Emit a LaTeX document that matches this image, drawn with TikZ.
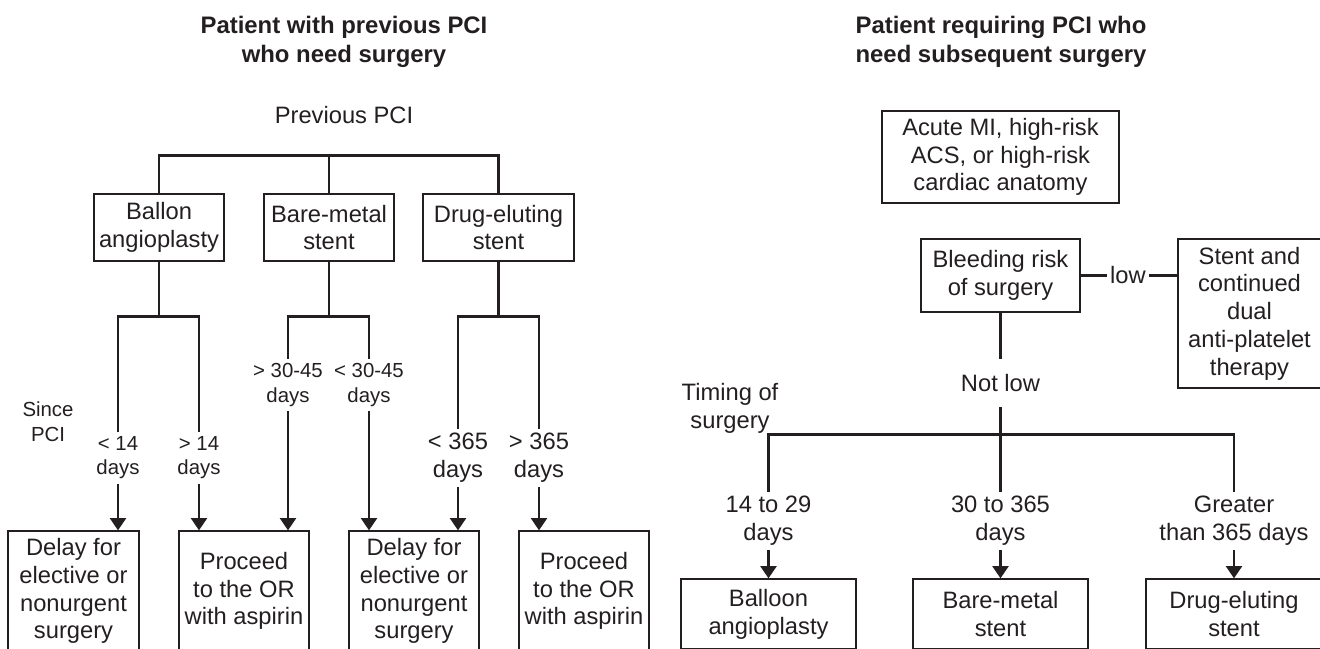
\documentclass[tikz,border=0pt]{standalone}
\usepackage{fontspec}
\setmainfont{Liberation Sans}
\usepackage{tikz}
\usetikzlibrary{positioning,arrows.meta}
\definecolor{ink}{HTML}{231F20}

\begin{document}
\begin{tikzpicture}[x=0.02cm,y=-0.02cm,
    box/.style={rectangle,draw=ink,line width=0.7pt,inner sep=0pt,align=center,text=ink,font=\fontsize{13.5}{15.8}\selectfont},
    lbl/.style={inner sep=2.5pt,align=center,text=ink,font=\fontsize{13.5}{15.8}\selectfont},
    tight/.style={lbl,font=\fontsize{11.6}{13.7}\selectfont},
    ttl/.style={align=center,text=ink,font=\fontsize{13.6}{16.5}\selectfont\bfseries},
    line/.style={draw=ink,line width=1.6pt},
    ptr/.style={line,-{Triangle[width=9pt,length=7pt]}}]

\clip (0,0) rectangle (1320,649);

% Left: previous PCI
\node[ttl] (ttlA) at (344,41.5) {Patient with previous PCI\\who need surgery};
\node[lbl,inner sep=0pt] (prev) at (344,115.5) {Previous PCI};

\node[box,minimum width=2.6cm,minimum height=1.34cm] (ballon) at (159,227.5) {Ballon\\angioplasty};
\node[box,minimum width=2.6cm,minimum height=1.34cm] (bare) at (329,227.5) {Bare-metal\\stent};
\node[box,minimum width=3.02cm,minimum height=1.34cm] (drug) at (498.5,227.5) {Drug-eluting\\stent};

\draw[line] (ballon.north) -- ++(0,-38) -| (drug.north);
\draw[line] (bare.north) -- ++(0,-38);

% Time since PCI
\node[tight,font=\fontsize{11.6}{14.2}\selectfont] (since) at (48,422) {Since\\PCI};
\node[tight] (lt14) at (118,458) {< 14\\days};
\node[tight] (gt14) at (199,458) {> 14\\days};
\node[tight] (gt30) at (288,385) {> 30-45\\days};
\node[tight] (lt30) at (369,385) {< 30-45\\days};
\node[lbl] (lt365) at (458,458) {< 365\\days};
\node[lbl] (gt365) at (539,458) {> 365\\days};

\draw[line] (ballon.south) -- ++(0,55) coordinate (ballonj);
\draw[line] (lt14.north) |- (ballonj) -| (gt14.north);
\draw[line] (bare.south) -- ++(0,55) coordinate (barej);
\draw[line] (gt30.north) |- (barej) -| (lt30.north);
\draw[line] (drug.south) -- ++(0,55) coordinate (drugj);
\draw[line] (lt365.north) |- (drugj) -| (gt365.north);

% Decisions
\node[box,minimum width=2.62cm,minimum height=2.4cm] (delay1) at (73.5,591) {Delay for\\elective or\\nonurgent\\surgery};
\node[box,minimum width=2.6cm,minimum height=2.4cm] (proc1) at (244,591) {Proceed\\to the OR\\with aspirin};
\node[box,minimum width=2.6cm,minimum height=2.4cm] (delay2) at (414,591) {Delay for\\elective or\\nonurgent\\surgery};
\node[box,minimum width=2.6cm,minimum height=2.4cm] (proc2) at (584,591) {Proceed\\to the OR\\with aspirin};

\draw[ptr] (lt14.south) -- (lt14.south |- delay1.north);
\draw[ptr] (gt14.south) -- (gt14.south |- proc1.north);
\draw[ptr] (gt30.south) -- (gt30.south |- proc1.north);
\draw[ptr] (lt30.south) -- (lt30.south |- delay2.north);
\draw[ptr] (lt365.south) -- (lt365.south |- delay2.north);
\draw[ptr] (gt365.south) -- (gt365.south |- proc2.north);

% Right: PCI before surgery
\node[ttl] (ttlB) at (1001,41.5) {Patient requiring PCI who\\need subsequent surgery};
\node[box,minimum width=4.74cm,minimum height=1.84cm] (acute) at (1000.5,157) {Acute MI, high-risk\\ACS, or high-risk\\cardiac anatomy};
\node[box,minimum width=3.18cm,minimum height=1.46cm] (bleed) at (1000.5,275.5) {Bleeding risk\\of surgery};
\node[lbl,inner sep=1.5pt] (low) at (1128,275.5) {low};
\node[box,minimum width=2.86cm,minimum height=2.98cm] (stent) at (1249.5,313.5) {Stent and\\continued\\dual\\anti-platelet\\therapy};

\draw[line] (bleed.east) -- (low.west);
\draw[line] (low.east) -- (low.east -| stent.west);

\node[lbl,minimum height=0.96cm] (notlow) at (1000.5,383) {Not low};
\draw[line] (bleed.south) -- (notlow.north);

% Timing of surgery
\node[lbl] (timing) at (730,408.5) {Timing of\\surgery};
\node[lbl] (t14) at (768.5,521) {14 to 29\\days};
\node[lbl] (t30) at (1000.5,521) {30 to 365\\days};
\node[lbl] (tgt) at (1234,521) {Greater\\than 365 days};

\path (notlow.south) ++(0,27) coordinate (tbar);
\draw[line] (notlow.south) -- (t30.north);
\draw[line] (t14.north) |- (tbar) -| (tgt.north);

\node[box,minimum width=3.5cm,minimum height=1.4cm] (balloon2) at (768.5,614) {Balloon\\angioplasty};
\node[box,minimum width=3.5cm,minimum height=1.4cm] (bare2) at (1000.5,614) {Bare-metal\\stent};
\node[box,minimum width=3.52cm,minimum height=1.4cm] (drug2) at (1234,614) {Drug-eluting\\stent};

\draw[ptr] (t14.south) -- (t14.south |- balloon2.north);
\draw[ptr] (t30.south) -- (t30.south |- bare2.north);
\draw[ptr] (tgt.south) -- (tgt.south |- drug2.north);

\end{tikzpicture}
\end{document}
